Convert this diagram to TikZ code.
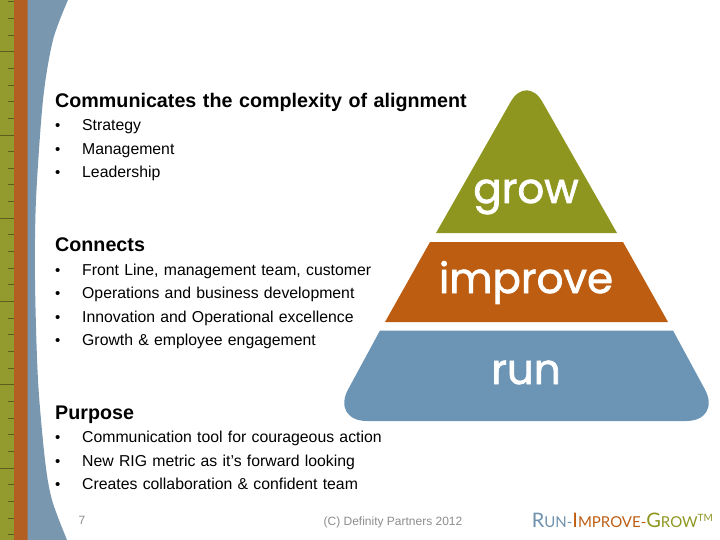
\documentclass[tikz,border=0pt]{standalone}
\usepackage{fontspec}
\setmainfont{Liberation Sans}
\newfontfamily\logofont{Lato}
\newfontfamily\pyrfont[FakeBold=1.6]{Poppins}
\usetikzlibrary{positioning, chains}
\definecolor{rulerolive}{HTML}{939B2E}
\definecolor{rulerorange}{HTML}{B35F24}
\definecolor{rulerblue}{HTML}{7A97B0}
\definecolor{rulertick}{HTML}{5C5F1E}
\definecolor{growcol}{HTML}{8E9620}
\definecolor{improvecol}{HTML}{BD5D12}
\definecolor{runcol}{HTML}{6B94B5}
\definecolor{footcol}{HTML}{8C8C8C}
\tikzstyle{itemline} = [inner sep=0pt, text width=415pt, align=left, text height=17pt, text depth=6pt, font=\fontsize{15.8}{18}\selectfont]
\tikzstyle{heading} = [inner sep=0pt, text width=415pt, align=left, text height=67.6pt, text depth=6pt, font=\fontsize{19.7}{22}\selectfont\bfseries]
\tikzstyle{pyrlabel} = [inner sep=0pt, anchor=base, text=white, font=\pyrfont\fontsize{42}{50}\selectfont]
\tikzstyle{footnote} = [inner sep=0pt, text=footcol, font=\fontsize{12}{14}\selectfont]
\newcommand{\bul}{\makebox[27pt][l]{\fontsize{15}{18}\selectfont\textbullet}}

\begin{document}
\begin{tikzpicture}[x=1pt, y=-1pt, node distance=0pt, start chain=1 going below]
        \useasboundingbox (0,0) rectangle (720,540);
        % ruler strip
        \fill[rulerolive] (0,0) rectangle (14,540);
        \fill[rulerorange] (14,0) rectangle (27.5,540);
        \fill[rulerblue] (27.5,0) -- plot[smooth] coordinates {(68,0) (53,40) (43,100) (36,200) (35,280) (38,380) (45,460) (52,500) (67,540)} -- (27.5,540) -- cycle;
        \foreach \k in {-3,...,29} {
            \pgfmathtruncatemacro{\rest}{mod(\k+5,5)}
            \ifnum\rest=0
                \draw[rulertick, line width=0.6pt] (0,51.6+16.65*\k) -- (14,51.6+16.65*\k);
            \else
                \draw[rulertick, line width=0.6pt] (8,51.6+16.65*\k) -- (14,51.6+16.65*\k);
            \fi
        }

        % text
        \node[heading, on chain, anchor=base west] (align) at (55,107.6) {Communicates the complexity of alignment};
        \node[itemline, on chain] (strategy) {\bul Strategy};
        \node[itemline, on chain] (management) {\bul Management};
        \node[itemline, on chain] (leadership) {\bul Leadership};
        \node[heading, on chain] (connects) {Connects};
        \node[itemline, on chain] (frontline) {\bul Front Line, management team, customer};
        \node[itemline, on chain] (operations) {\bul Operations and business development};
        \node[itemline, on chain] (innovation) {\bul Innovation and Operational excellence};
        \node[itemline, on chain] (engagement) {\bul Growth \& employee engagement};
        \node[heading, on chain] (purpose) {Purpose};
        \node[itemline, on chain] (courage) {\bul Communication tool for courageous action};
        \node[itemline, on chain] (metric) {\bul New RIG metric as it’s forward looking};
        \node[itemline, on chain] (team) {\bul Creates collaboration \& confident team};

        % pyramid
        \fill[growcol] (436,233) [rounded corners=32pt] -- (526.5,74) [sharp corners] -- (617,233) -- cycle;
        \fill[improvecol] (430,242) -- (623,242) -- (668,322) -- (385,322) -- cycle;
        \fill[runcol] (380,330.5) -- (673,330.5) [rounded corners=36pt] -- (722,421) -- (331,421) [sharp corners] -- cycle;
        \node[pyrlabel] (grow) at (526,203) {grow};
        \node[pyrlabel] (improve) at (526,293) {improve};
        \node[pyrlabel] (run) at (526,384) {run};

        % footer
        \node[footnote, anchor=base] (pagenum) at (82,524) {7};
        \node[footnote, anchor=base] (copyright) at (393,525) {(C) Definity Partners 2012};
        \node[inner sep=0pt, anchor=base east, font=\logofont] (logo) at (713,527) {%
            \textcolor{runcol!85!gray}{\fontsize{20}{24}\selectfont R\fontsize{15}{24}\selectfont UN-}%
            \textcolor{improvecol}{\fontsize{20}{24}\selectfont I\fontsize{15}{24}\selectfont MPROVE-}%
            \textcolor{growcol}{\fontsize{20}{24}\selectfont G\fontsize{15}{24}\selectfont ROW\raisebox{6pt}{\fontsize{10}{12}\selectfont TM}}};
    \end{tikzpicture}
\end{document}
